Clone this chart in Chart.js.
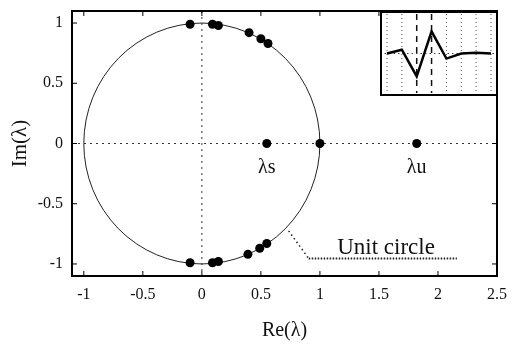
<!DOCTYPE html>
<html>
<head>
<meta charset="utf-8">
<script src="https://cdn.jsdelivr.net/npm/chart.js@4.4.1/dist/chart.umd.min.js"></script>
<style>
  html, body { margin: 0; padding: 0; background: #fff; }
  #wrap { position: relative; width: 520px; height: 345px; }
  #main { position: absolute; left: 0; top: 0; }
  #inset { position: absolute; left: 380px; top: 11px; background: #fff; }
</style>
</head>
<body>
<div id="wrap">
  <canvas id="main" width="520" height="345"></canvas>
  <canvas id="inset" width="118" height="85"></canvas>
</div>
<script>
// Eigenvalues on the unit circle (Re, Im)
const circleRe = [-0.10, 0.09, 0.14, 0.40, 0.50, 0.56, -0.10, 0.09, 0.14, 0.39, 0.49, 0.55, 1.00];
const circleIm = [0.99, 0.99, 0.98, 0.92, 0.87, 0.83, -0.99, -0.99, -0.98, -0.92, -0.87, -0.83, 0.00];

// Stable / unstable real eigenvalues
const realLabels = ['λs', 'λu'];
const realRe = [0.55, 1.82];
const realIm = [0, 0];

// Axis ticks
const xTicks = [-1, -0.5, 0, 0.5, 1, 1.5, 2, 2.5];
const yTicks = [-1, -0.5, 0, 0.5, 1];

// Unit circle and its label leader (data units)
const unitCircle = { cx: 0, cy: 0, r: 1 };
const leaderRe = [0.735, 0.905, 2.16];
const leaderIm = [-0.725, -0.955, -0.955];
const leaderText = 'Unit circle';
const leaderTextAt = [1.56, -0.915];

// Inset: eigenvector profile
const insetIdx = [0, 1, 2, 3, 4, 5, 6, 7];
const insetVal = [0, 0.09, -0.54, 0.52, -0.12, 0, 0.02, 0];
const insetMarked = [2, 3];

const SERIF = '"Liberation Serif", "DejaVu Serif", serif';

const frame = {
  id: 'frame',
  beforeDatasetsDraw(chart) {
    const { ctx, chartArea: a, scales: { x, y } } = chart;
    ctx.save();
    // zero lines
    ctx.strokeStyle = '#333';
    ctx.lineWidth = 1;
    ctx.setLineDash([2, 4]);
    ctx.beginPath();
    ctx.moveTo(a.left, y.getPixelForValue(0));
    ctx.lineTo(a.right, y.getPixelForValue(0));
    ctx.moveTo(x.getPixelForValue(0), a.top);
    ctx.lineTo(x.getPixelForValue(0), a.bottom);
    ctx.stroke();
    // unit circle
    ctx.setLineDash([]);
    ctx.strokeStyle = '#222';
    ctx.lineWidth = 1;
    const cx = x.getPixelForValue(unitCircle.cx);
    const cy = y.getPixelForValue(unitCircle.cy);
    const rx = x.getPixelForValue(unitCircle.cx + unitCircle.r) - cx;
    const ry = cy - y.getPixelForValue(unitCircle.cy + unitCircle.r);
    ctx.beginPath();
    ctx.ellipse(cx, cy, rx, ry, 0, 0, Math.PI * 2);
    ctx.stroke();
    // leader to the label
    ctx.setLineDash([1.5, 3]);
    ctx.lineWidth = 1.5;
    ctx.beginPath();
    ctx.moveTo(x.getPixelForValue(leaderRe[0]), y.getPixelForValue(leaderIm[0]));
    ctx.lineTo(x.getPixelForValue(leaderRe[1]), y.getPixelForValue(leaderIm[1]));
    ctx.stroke();
    ctx.setLineDash([1.5, 1.5]);
    ctx.lineWidth = 2;
    ctx.beginPath();
    ctx.moveTo(x.getPixelForValue(leaderRe[1]), y.getPixelForValue(leaderIm[1]));
    ctx.lineTo(x.getPixelForValue(leaderRe[2]), y.getPixelForValue(leaderIm[2]));
    ctx.stroke();
    ctx.restore();
  },
  afterDraw(chart) {
    const { ctx, chartArea: a, scales: { x, y } } = chart;
    ctx.save();
    // labels
    ctx.fillStyle = '#111';
    ctx.font = '20px ' + SERIF;
    ctx.textAlign = 'center';
    ctx.textBaseline = 'alphabetic';
    realLabels.forEach((t, i) => {
      ctx.fillText(t, x.getPixelForValue(realRe[i]), y.getPixelForValue(realIm[i]) + 29);
    });
    ctx.font = '23px ' + SERIF;
    ctx.fillText(leaderText, x.getPixelForValue(leaderTextAt[0]), y.getPixelForValue(leaderTextAt[1]));
    // frame and inner ticks
    ctx.strokeStyle = '#000';
    ctx.lineWidth = 2;
    ctx.strokeRect(a.left, a.top, a.right - a.left, a.bottom - a.top);
    ctx.lineWidth = 1;
    ctx.beginPath();
    xTicks.forEach(v => {
      const px = x.getPixelForValue(v);
      ctx.moveTo(px, a.bottom); ctx.lineTo(px, a.bottom - 5);
      ctx.moveTo(px, a.top); ctx.lineTo(px, a.top + 5);
    });
    yTicks.forEach(v => {
      const py = y.getPixelForValue(v);
      ctx.moveTo(a.left, py); ctx.lineTo(a.left + 5, py);
      ctx.moveTo(a.right, py); ctx.lineTo(a.right - 5, py);
    });
    ctx.stroke();
    ctx.restore();
  }
};

new Chart(document.getElementById('main'), {
  type: 'scatter',
  data: {
    datasets: [
      {
        data: circleRe.map((re, i) => ({ x: re, y: circleIm[i] })),
        backgroundColor: '#000', borderColor: '#000', pointRadius: 4.5, pointBorderWidth: 0
      },
      {
        data: realRe.map((re, i) => ({ x: re, y: realIm[i] })),
        backgroundColor: '#000', borderColor: '#000', pointRadius: 4.5, pointBorderWidth: 0
      }
    ]
  },
  options: {
    responsive: false,
    devicePixelRatio: 1,
    animation: false,
    layout: { padding: { top: 11, right: 23, left: 0, bottom: 0 } },
    plugins: { legend: { display: false }, tooltip: { enabled: false } },
    scales: {
      x: {
        type: 'linear', min: -1.1, max: 2.5,
        grid: { display: false, drawTicks: false },
        border: { display: false },
        afterBuildTicks: s => { s.ticks = xTicks.map(v => ({ value: v })); },
        afterFit: s => { s.height = 69; s.paddingLeft = 0; s.paddingRight = 0; },
        ticks: { color: '#111', font: { family: SERIF, size: 16 }, padding: 9, maxRotation: 0, callback: v => String(v) },
        title: { display: true, text: 'Re(λ)', color: '#111', font: { family: SERIF, size: 20 }, padding: { top: 0, bottom: 2 } }
      },
      y: {
        type: 'linear', min: -1.1, max: 1.1,
        grid: { display: false, drawTicks: false },
        border: { display: false },
        afterBuildTicks: s => { s.ticks = yTicks.map(v => ({ value: v })); },
        afterFit: s => { s.width = 72; s.paddingTop = 0; s.paddingBottom = 0; },
        ticks: { color: '#111', font: { family: SERIF, size: 16 }, padding: 9, callback: v => String(v) },
        title: { display: true, text: 'Im(λ)', color: '#111', font: { family: SERIF, size: 21 }, padding: { top: 8, bottom: 0 } }
      }
    }
  },
  plugins: [frame]
});

const insetFrame = {
  id: 'insetFrame',
  beforeDatasetsDraw(chart) {
    const { ctx, chartArea: a, scales: { x, y } } = chart;
    ctx.save();
    ctx.fillStyle = '#fff';
    ctx.fillRect(a.left, a.top, a.right - a.left, a.bottom - a.top);
    insetIdx.forEach(i => {
      const px = x.getPixelForValue(i);
      const marked = insetMarked.includes(i);
      ctx.strokeStyle = marked ? '#111' : '#555';
      ctx.lineWidth = marked ? 1.5 : 1;
      ctx.setLineDash(marked ? [6, 5] : [1, 3]);
      ctx.beginPath();
      ctx.moveTo(px, a.top + 3);
      ctx.lineTo(px, a.bottom - 3);
      ctx.stroke();
    });
    ctx.strokeStyle = '#444';
    ctx.lineWidth = 1;
    ctx.setLineDash([1.5, 3]);
    ctx.beginPath();
    ctx.moveTo(a.left, y.getPixelForValue(0));
    ctx.lineTo(a.right, y.getPixelForValue(0));
    ctx.stroke();
    ctx.restore();
  },
  afterDraw(chart) {
    const { ctx, chartArea: a } = chart;
    ctx.save();
    ctx.strokeStyle = '#000';
    ctx.lineWidth = 2;
    ctx.strokeRect(a.left + 1, a.top + 1, a.right - a.left - 2, a.bottom - a.top - 2);
    ctx.restore();
  }
};

new Chart(document.getElementById('inset'), {
  type: 'line',
  data: {
    datasets: [{
      data: insetIdx.map((i, k) => ({ x: i, y: insetVal[k] })),
      borderColor: '#000', borderWidth: 2.5, pointRadius: 0, tension: 0, fill: false
    }]
  },
  options: {
    responsive: false,
    devicePixelRatio: 1,
    animation: false,
    layout: { padding: 0 },
    plugins: { legend: { display: false }, tooltip: { enabled: false } },
    scales: {
      x: { type: 'linear', min: -0.47, max: 7.47, display: false },
      y: { type: 'linear', min: -1, max: 1, display: false }
    }
  },
  plugins: [insetFrame]
});
</script>
</body>
</html>
